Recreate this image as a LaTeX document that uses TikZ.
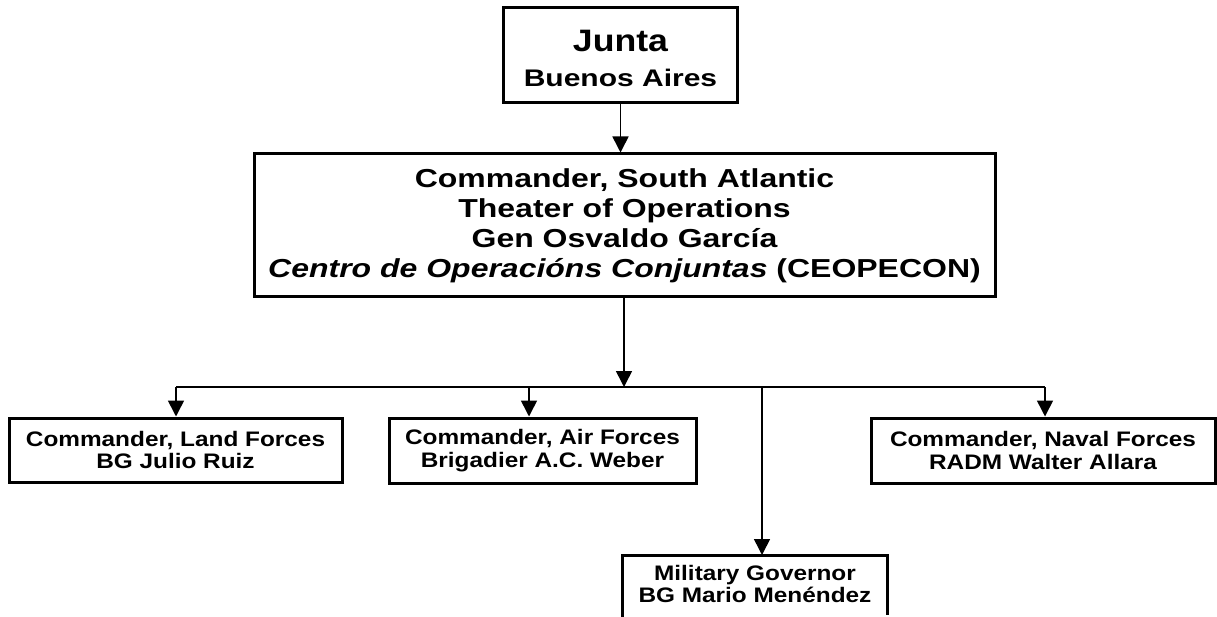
\documentclass[tikz,border=0pt]{standalone}
\usepackage{fontspec}
\setmainfont{Liberation Sans}
\newfontfamily\stretchA[FakeStretch=1.23]{Liberation Sans}
\newfontfamily\stretchB[FakeStretch=1.16]{Liberation Sans}
\newfontfamily\stretchJ[FakeStretch=1.15]{Liberation Sans}
\usetikzlibrary{arrows.meta}
\begin{document}
\begin{tikzpicture}[x=1pt,y=-1pt,
  boxnode/.style={draw=black,line width=3pt,align=center,inner sep=0pt},
  bignode/.style={boxnode,font=\stretchA\bfseries\fontsize{26}{30}\selectfont},
  smallnode/.style={boxnode,font=\stretchB\bfseries\fontsize{21}{22.5}\selectfont},
  conn/.style={line width=1.6pt,draw=black},
  arr/.style={conn,-{Triangle[length=16pt,width=16pt]}}]
\clip (0,0) rectangle (1217,617);
\fill[white] (0,0) rectangle (1217,617);
\node[boxnode,minimum width=234pt,minimum height=95pt,
  font=\stretchJ\bfseries\fontsize{31}{35}\selectfont] (junta) at (620.5,55.5)
  {\rule{0pt}{28pt}Junta\\{\fontsize{24}{28}\selectfont\addfontfeatures{FakeStretch=1.25}Buenos Aires}};
\node[bignode,minimum width=741pt,minimum height=143pt] (main) at (624.5,225.5)
  {Commander, South Atlantic\\Theater of Operations\\Gen Osvaldo García\\\textit{Centro de Operacións Conjuntas} (CEOPECON)};
\node[smallnode,minimum width=333pt,minimum height=64pt] (land) at (175.5,450)
  {Commander, Land Forces\\BG Julio Ruiz};
\node[smallnode,minimum width=307pt,minimum height=65pt] (air) at (542.5,450.5)
  {Commander, Air Forces\\Brigadier A.C. Weber};
\node[smallnode,minimum width=344pt,minimum height=65pt] (naval) at (1043,450.5)
  {Commander, Naval Forces\\RADM Walter Allara};
\node[font=\stretchB\bfseries\fontsize{21}{22.5}\selectfont,align=center,inner sep=0pt,
  minimum width=264pt,anchor=north] (gov) at (755,565)
  {Military Governor\\BG Mario Menéndez};
\draw[line width=3pt] ([yshift=-60pt]gov.north west) |- ([yshift=10pt]gov.north east) -- ++(0,60);
\coordinate (bus) at (624,387);
\coordinate (bL) at (176,387);
\coordinate (bA) at (529,387);
\coordinate (bG) at (762,387);
\coordinate (bN) at (1045,387);
\draw[arr] (junta.south) -- (junta.south |- main.north);
\draw[arr] (main.south -| bus) -- (bus);
\draw[conn] (bL) -- (bN);
\draw[arr] (bL) -- (bL |- land.north);
\draw[arr] (bA) -- (bA |- air.north);
\draw[arr] (bN) -- (bN |- naval.north);
\draw[arr] (bG) -- (bG |- 0,555);
\end{tikzpicture}
\end{document}
